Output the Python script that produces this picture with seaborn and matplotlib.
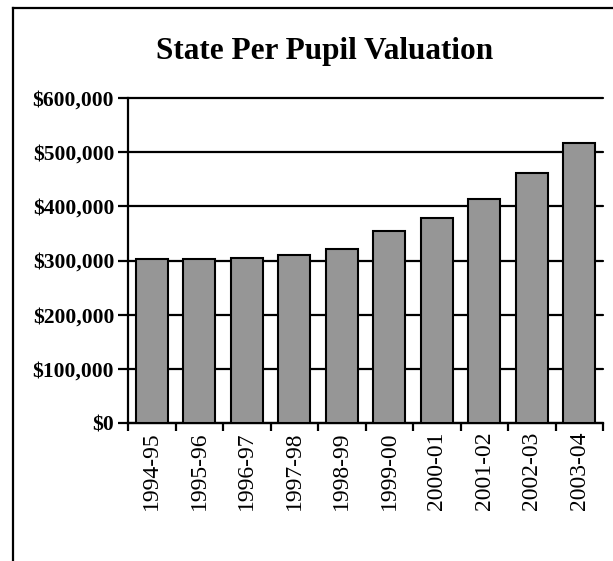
import matplotlib
matplotlib.use("Agg")
import matplotlib.pyplot as plt
import seaborn as sns
import pandas as pd
from matplotlib.lines import Line2D
from matplotlib.ticker import FuncFormatter, FixedLocator

years = ["1994-95", "1995-96", "1996-97", "1997-98", "1998-99",
         "1999-00", "2000-01", "2001-02", "2002-03", "2003-04"]
valuation = [303000, 302000, 304000, 310000, 321000,
             355000, 379000, 414000, 462000, 517000]
title = "State Per Pupil Valuation"

sns.set_theme(style="white")
plt.rcParams['font.family'] = ['Liberation Serif', 'DejaVu Serif']
plt.rcParams['text.color'] = 'black'
plt.rcParams['xtick.color'] = 'black'
plt.rcParams['ytick.color'] = 'black'
plt.rcParams['axes.labelcolor'] = 'black'

df = pd.DataFrame({"year": years, "value": valuation})

fig = plt.figure(figsize=(6.13, 5.61), dpi=100)
ax = fig.add_axes([128/613, 1 - 423/561, (603-128)/613, (423-98)/561])

sns.barplot(data=df, x="year", y="value", ax=ax, color="#969696",
            edgecolor="black", linewidth=1.5, width=0.67, saturation=1, zorder=3)

ax.set_ylim(0, 600000)
ax.set_xlim(-0.5, len(years) - 0.5)
ax.set_yticks([0, 100000, 200000, 300000, 400000, 500000, 600000])
ax.yaxis.set_major_formatter(FuncFormatter(lambda v, p: f"${int(v):,}"))
ax.yaxis.grid(True, color="black", linewidth=1.6, zorder=0)
ax.set_axisbelow(True)
ax.xaxis.grid(False)
for gl in ax.get_ygridlines():
    gl.set_clip_on(False)

for s in ["top", "right"]:
    ax.spines[s].set_visible(False)
for s in ["left", "bottom"]:
    ax.spines[s].set_color("black")
    ax.spines[s].set_linewidth(1.6)

ax.set_xlabel("")
ax.set_ylabel("")
ax.tick_params(axis="y", which="major", direction="out", length=7, width=1.6,
               color="black", labelcolor="black", labelsize=15.5, pad=3, left=True)
for lbl in ax.get_yticklabels():
    lbl.set_fontweight("bold")

ax.xaxis.set_minor_locator(FixedLocator([i - 0.5 for i in range(len(years) + 1)]))
ax.tick_params(axis="x", which="minor", direction="out", length=6, width=1.6,
               color="black", bottom=True)
ax.tick_params(axis="x", which="major", length=0, labelsize=17, pad=6,
               labelcolor="black")
plt.setp(ax.get_xticklabels(), rotation=90)

fig.text(325/613, 1 - 51/561, title, ha="center", va="center",
         fontsize=22.5, fontweight="bold", color="black")

# outer frame (left and top edges visible)
fig.add_artist(Line2D([12.5/613, 12.5/613], [0, 1 - 7.5/561], transform=fig.transFigure,
                      color="black", linewidth=1.6, solid_capstyle="projecting"))
fig.add_artist(Line2D([12.5/613, 1], [1 - 7.5/561, 1 - 7.5/561], transform=fig.transFigure,
                      color="black", linewidth=1.6, solid_capstyle="projecting"))

fig.savefig("out.png", dpi=100)
